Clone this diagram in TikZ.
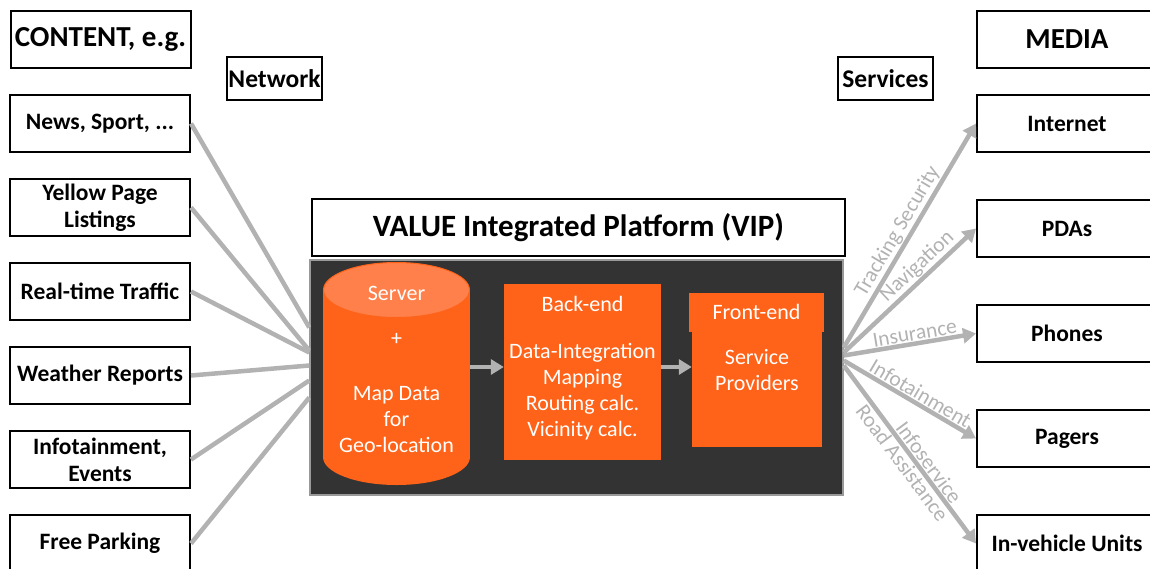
\documentclass[tikz,border=0pt]{standalone}
\usepackage{fontspec}
\setmainfont{Carlito}
\usepackage{tikz}
\usetikzlibrary{arrows.meta,calc}
\definecolor{vipor}{RGB}{255,99,25}
\definecolor{viptop}{RGB}{255,128,74}
\definecolor{vipdark}{RGB}{51,51,51}
\definecolor{linkgray}{RGB}{178,178,178}
\tikzstyle{cbox}=[draw,line width=2pt,minimum width=180pt,minimum height=57pt,inner sep=0pt,align=center,font=\fontsize{23.5}{27}\selectfont\bfseries]
\tikzstyle{hbox}=[cbox,font=\fontsize{29}{30}\selectfont\bfseries]
\tikzstyle{tag}=[draw,line width=2pt,minimum width=95pt,minimum height=43pt,inner sep=0pt,font=\fontsize{25.5}{26}\selectfont\bfseries]
\tikzstyle{orbox}=[fill=vipor,inner sep=0pt]
\tikzstyle{intext}=[white,align=center,inner sep=0pt,font=\fontsize{22}{26}\selectfont]
\tikzstyle{link}=[draw,linkgray,line width=4.5pt]
\tikzstyle{flow}=[link,-{Triangle[length=13pt,width=15pt]}]
\tikzstyle{lbl}=[linkgray,inner sep=1pt,font=\fontsize{21.5}{22}\selectfont]

\begin{document}
\begin{tikzpicture}[x=1pt,y=-1pt]
    \useasboundingbox (0,0) rectangle (1150,568);
    \clip (0,0) rectangle (1150,568);
    % First the content boxes on the left and the media boxes on the right
    \node[hbox] (content) at (100.5,39.5) {CONTENT, e.g.};
    \foreach \pos/\name/\txt in {{(100,123.5)/news/{News, Sport, ...}}, {(100,207.5)/yellow/{Yellow Page\\Listings}},
        {(100,291.5)/traffic/{Real-time Traffic}}, {(100,375.5)/weather/{Weather Reports}},
        {(100,459.5)/infot/{Infotainment,\\Events}}, {(100,543.5)/parking/{Free Parking}}}
        \node[cbox] (\name) at \pos {\txt};
    \node[hbox] (media) at (1067,39.5) {MEDIA};
    \foreach \pos/\name/\txt in {{(1067,123.5)/internet/Internet}, {(1067,228.5)/pdas/PDAs}, {(1067,333.5)/phones/Phones},
        {(1067,438.5)/pagers/Pagers}, {(1067,543.5)/invehicle/In-vehicle Units}}
        \node[cbox] (\name) at \pos {\txt};
    \node[tag] (network) at (274.5,78.5) {Network};
    \node[tag] (services) at (885.5,78.5) {Services};
    % The platform
    \node[draw,line width=2pt,minimum width=533pt,minimum height=57pt,font=\fontsize{31}{32}\selectfont\bfseries] (vip) at (578.5,227.5) {VALUE Integrated Platform (VIP)};
    \node[fill=vipdark,draw=black!40,line width=1.5pt,minimum width=533pt,minimum height=235pt] (plat) at (576.5,377.5) {};
    % server cylinder
    \fill[vipor] (396.5,457) ellipse [x radius=73.5,y radius=28];
    \fill[vipor] (323,290) rectangle (470,457);
    \filldraw[fill=viptop,draw=vipor,line width=1pt] (396.5,290) ellipse [x radius=73,y radius=27.5];
    \node[minimum width=147pt,minimum height=208pt,inner sep=0pt] (srv) at (396.5,367) {};
    \node[intext] (srvname) at (396.5,293) {Server};
    \node[intext] (plus) at (396.5,339) {+};
    \node[intext] (mapdata) at (396.5,420) {Map Data\\for\\Geo-location};
    % back-end and front-end
    \node[orbox,minimum width=157pt,minimum height=176pt] (be) at (582.5,372) {};
    \node[intext] (betitle) at (582.5,304) {Back-end};
    \node[intext] (betext) at (582.5,392) {Data-Integration\\Mapping\\Routing calc.\\Vicinity calc.};
    \node[orbox,minimum width=135pt,minimum height=39pt] (fe) at (756.5,312.5) {};
    \node[intext] (fetitle) at (756.5,312) {Front-end};
    \node[orbox,minimum width=130pt,minimum height=115pt] (sp) at (757,389.5) {};
    \node[intext] (sptext) at (757,370) {Service\\Providers};
    \path[flow] (srv.east) -- (be.west |- srv.east);
    \path[flow] (be.east |- srv.east) -- (sp.west |- srv.east);
    % Connect content to the platform
    \foreach \source/\dy in {news/50, yellow/27, traffic/25, weather/12, infot/-3, parking/-20}
        \path[link] (\source.east) -- ([yshift=\dy pt]plat.west);
    % Services to the media
    \path[flow] ([yshift=30pt]plat.east) -- node[lbl,above,sloped,pos=0.49] {Tracking Security} (internet.west);
    \path[flow] ([yshift=25pt]plat.east) -- node[lbl,above,sloped,pos=0.62] {Navigation} (pdas.west);
    \path[flow] ([yshift=22pt]plat.east) -- node[lbl,above,sloped,pos=0.55] {Insurance} (phones.west);
    \path[flow] ([yshift=17pt]plat.east) -- node[lbl,above,sloped,pos=0.54] {Infotainment} (pagers.west);
    \path[flow] ([yshift=12pt]plat.east) -- node[lbl,above,sloped,pos=0.58] {Infoservice}
        node[lbl,below,sloped,pos=0.51] {Road Assistance} (invehicle.west);
\end{tikzpicture}
\end{document}
